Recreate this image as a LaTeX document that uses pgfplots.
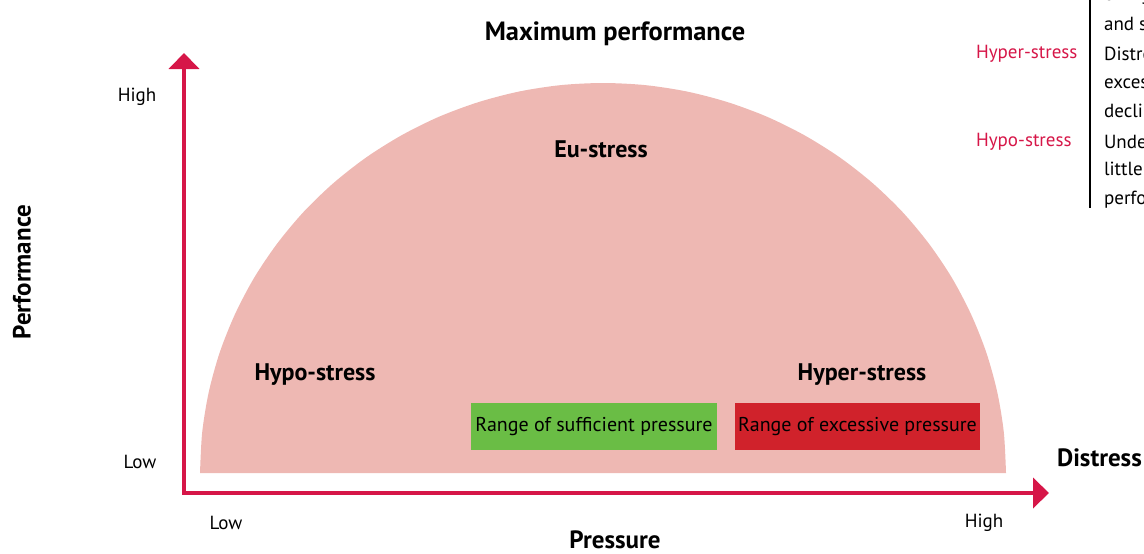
\documentclass[border=0pt]{standalone}
\usepackage{pgfplots}
\pgfplotsset{compat=1.18}
\usepackage{fontspec}
\setmainfont{PT Sans}
\usetikzlibrary{arrows.meta}
\definecolor{crimson}{RGB}{214,22,72}
\definecolor{pinkfill}{RGB}{238,184,179}
\definecolor{gbox}{RGB}{106,189,69}
\definecolor{rbox}{RGB}{208,34,43}
\begin{document}
\begin{tikzpicture}
\begin{axis}[
  scale only axis, width=572pt, height=276.5pt,
  xmin=0, xmax=1144, ymin=0, ymax=553,
  hide axis, clip=false]
% semi-ellipse (stress curve)
\addplot[fill=pinkfill, draw=none, smooth, tension=0.5] coordinates {
(1006,80) (1003.8,120.8) (997.2,161.1) (986.3,200.5) (971.1,238.6) (952.0,275.0)
(929.0,309.2) (902.5,341.0) (872.7,369.8) (839.9,395.5) (804.5,417.7) (766.9,436.3)
(727.5,450.9) (686.8,461.5) (645.1,467.9) (603,470) (560.9,467.9) (519.2,461.5)
(478.5,450.9) (439.1,436.3) (401.5,417.7) (366.1,395.5) (333.3,369.8) (303.5,341.0)
(277.0,309.2) (254.0,275.0) (234.9,238.6) (219.7,200.5) (208.8,161.1) (202.2,120.8)
(200,80)} -- cycle;
% axes with arrows
\addplot[crimson, line width=2.2pt, miter limit=10, line join=miter,
  {Triangle[width=15pt,length=8pt]}-{Triangle[width=15pt,length=8pt]}]
  coordinates {(184,500) (184,60) (1049,60)};
% range boxes
\node[fill=gbox, minimum width=123pt, minimum height=23.5pt, inner sep=0pt,
  font=\fontsize{10}{12}\selectfont] at (axis cs:594,126.5) {Range of sufficient pressure};
\node[fill=rbox, minimum width=122.5pt, minimum height=23.5pt, inner sep=0pt,
  font=\fontsize{10}{12}\selectfont] at (axis cs:857.5,126.5) {Range of excessive pressure};
% labels
\node[font=\bfseries\fontsize{13.2}{15}\selectfont] at (axis cs:615,519) {Maximum performance};
\node[font=\bfseries\fontsize{12}{14}\selectfont] at (axis cs:601,404) {Eu-stress};
\node[font=\bfseries\fontsize{12}{14}\selectfont] at (axis cs:315,178) {Hypo-stress};
\node[font=\bfseries\fontsize{12}{14}\selectfont] at (axis cs:862,178) {Hyper-stress};
\node[font=\bfseries\fontsize{12.5}{14}\selectfont, anchor=west] at (axis cs:1050,95) {Distress};
\node[font=\bfseries\fontsize{12.5}{14}\selectfont] at (axis cs:615,13) {Pressure};
\node[font=\bfseries\fontsize{12.5}{14}\selectfont, rotate=90] at (axis cs:22,281) {Performance};
\node[font=\fontsize{9.5}{12}\selectfont] at (axis cs:137,456) {High};
\node[font=\fontsize{9.5}{12}\selectfont] at (axis cs:140,91) {Low};
\node[font=\fontsize{9.5}{12}\selectfont] at (axis cs:226,30) {Low};
\node[font=\fontsize{9.5}{12}\selectfont] at (axis cs:984,30) {High};
% side legend (cropped)
\draw[black, line width=0.6pt] (axis cs:1090,560) -- (axis cs:1090,345);
\node[font=\fontsize{9.5}{12}\selectfont, text=crimson, anchor=west] at (axis cs:969,499) {Hyper-stress};
\node[font=\fontsize{9.5}{12}\selectfont, text=crimson, anchor=west] at (axis cs:969,411) {Hypo-stress};
\node[font=\fontsize{9.5}{12}\selectfont, anchor=west] at (axis cs:1097,557) {of higher};
\node[font=\fontsize{9.5}{12}\selectfont, anchor=west] at (axis cs:1097,529) {and stable};
\node[font=\fontsize{9.5}{12}\selectfont, anchor=west] at (axis cs:1097,499) {Distress due to};
\node[font=\fontsize{9.5}{12}\selectfont, anchor=west] at (axis cs:1097,469) {excessive pressure};
\node[font=\fontsize{9.5}{12}\selectfont, anchor=west] at (axis cs:1097,440) {declining};
\node[font=\fontsize{9.5}{12}\selectfont, anchor=west] at (axis cs:1097,411) {Underload due to};
\node[font=\fontsize{9.5}{12}\selectfont, anchor=west] at (axis cs:1097,382) {little pressure};
\node[font=\fontsize{9.5}{12}\selectfont, anchor=west] at (axis cs:1097,353) {performance};
\end{axis}
\pgfresetboundingbox
\useasboundingbox (0,0) rectangle (572pt,276.5pt);
\end{tikzpicture}
\end{document}
